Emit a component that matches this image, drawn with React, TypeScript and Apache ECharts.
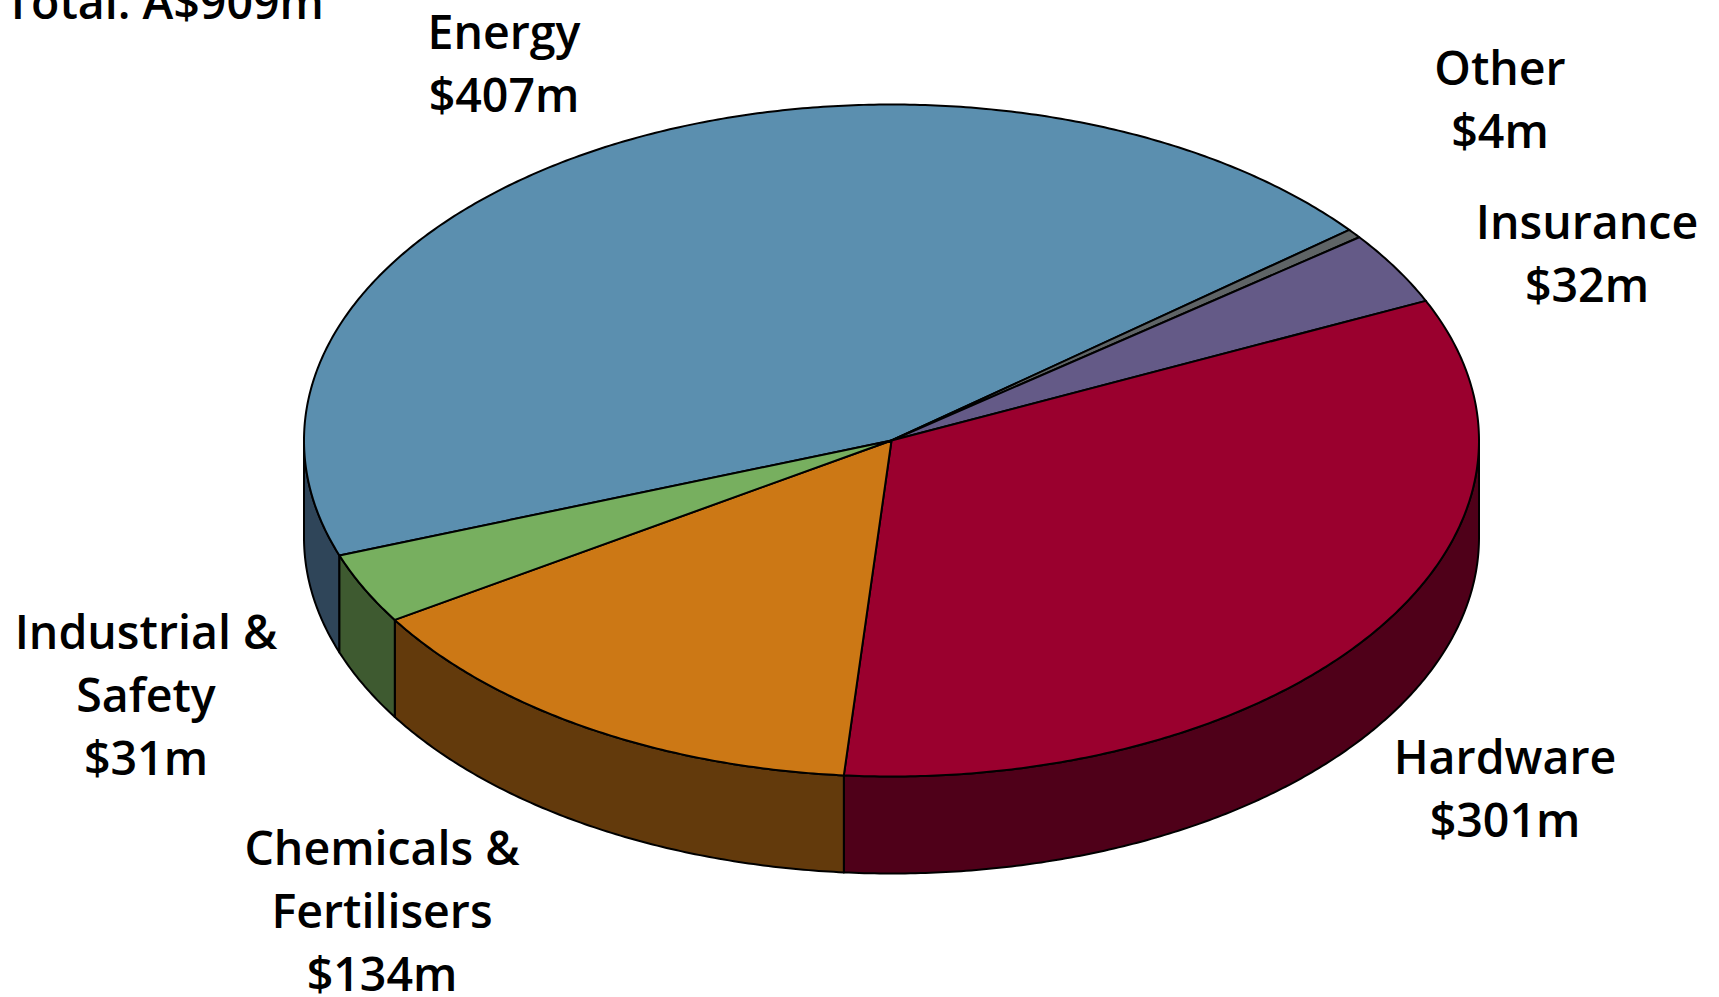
import React, { useEffect, useRef } from 'react';
import * as echarts from 'echarts';

// Revenue by segment, A$m (clockwise from the lower-left)
const CATEGORIES = ['Energy', 'Other', 'Insurance', 'Hardware', 'Chemicals & Fertilisers', 'Industrial & Safety'];
const VALUES = [407, 4, 32, 301, 134, 31];
const TOTAL_LABEL = 'Total: A$909m';

const TOP_COLORS = ['#5B8FAF', '#5F6466', '#645A87', '#9A002E', '#CC7815', '#77AF5F'];
const SIDE_COLORS = ['#2F4559', '#36393A', '#3A3450', '#4F0019', '#633A0C', '#3E5A30'];

// Centre of each label block, in pixels
const LABEL_POS: [number, number][] = [
  [504, 62],
  [1500, 98],
  [1587, 252],
  [1505, 787],
  [382, 910],
  [146, 694],
];

// Tilted-disc geometry
const PIE = { cx: 891.5, cy: 440.5, rx: 587.5, ry: 336, depth: 97, startAngle: 160 };
const FONT_FAMILY = '"Open Sans", "Noto Sans", sans-serif';
const FONT_SIZE = 46.5;
const FONT_WEIGHT = 600;
const LINE_HEIGHT = 63;

function sliceAngles(values: number[], i: number): [number, number] {
  const total = values.reduce((a, b) => a + b, 0);
  let acc = 0;
  for (let k = 0; k < i; k++) acc += values[k];
  const a0 = PIE.startAngle + (acc / total) * 360;
  const a1 = a0 + (values[i] / total) * 360;
  return [a0, a1];
}

function arcPoints(a0: number, a1: number, dy: number): number[][] {
  const steps = Math.max(2, Math.ceil((a1 - a0) / 0.5));
  const pts: number[][] = [];
  for (let s = 0; s <= steps; s++) {
    const a = ((a0 + ((a1 - a0) * s) / steps) * Math.PI) / 180;
    pts.push([PIE.cx + PIE.rx * Math.cos(a), PIE.cy + PIE.ry * Math.sin(a) + dy]);
  }
  return pts;
}

function labelText(i: number): string {
  return `${CATEGORIES[i].replace(' & ', ' &\n')}\n$${VALUES[i]}m`;
}

export default function App() {
  const ref = useRef<HTMLDivElement>(null);

  useEffect(() => {
    if (!ref.current) return;
    const chart = echarts.init(ref.current, undefined, { renderer: 'svg' });
    const data = VALUES.map((v, i) => ({ name: CATEGORIES[i], value: v }));

    chart.setOption({
      animation: false,
      backgroundColor: '#ffffff',
      graphic: [
        {
          type: 'text',
          x: 324,
          y: 1,
          style: {
            text: TOTAL_LABEL,
            fill: '#000',
            fontFamily: FONT_FAMILY,
            fontSize: FONT_SIZE,
            fontWeight: FONT_WEIGHT,
            align: 'right',
            verticalAlign: 'middle',
          },
        },
      ],
      series: [
        {
          // outer walls of the disc (front half only)
          type: 'custom',
          coordinateSystem: 'none',
          z: 1,
          silent: true,
          data,
          renderItem: (params: any) => {
            const i = params.dataIndex;
            const [a0, a1] = sliceAngles(VALUES, i);
            const children: any[] = [];
            for (const base of [0, 360]) {
              const s = Math.max(a0, base);
              const e = Math.min(a1, base + 180);
              if (e > s) {
                const top = arcPoints(s, e, 0);
                const bottom = arcPoints(s, e, PIE.depth).reverse();
                children.push({
                  type: 'polygon',
                  shape: { points: top.concat(bottom) },
                  style: { fill: SIDE_COLORS[i], stroke: '#000', lineWidth: 2, lineJoin: 'round' },
                });
              }
            }
            return { type: 'group', children };
          },
        },
        {
          // top faces and labels
          type: 'custom',
          coordinateSystem: 'none',
          z: 2,
          silent: true,
          data,
          renderItem: (params: any) => {
            const i = params.dataIndex;
            const [a0, a1] = sliceAngles(VALUES, i);
            const pts = [[PIE.cx, PIE.cy]].concat(arcPoints(a0, a1, 0));
            return {
              type: 'group',
              children: [
                {
                  type: 'polygon',
                  shape: { points: pts },
                  style: { fill: TOP_COLORS[i], stroke: '#000', lineWidth: 2, lineJoin: 'round' },
                },
                {
                  type: 'text',
                  x: LABEL_POS[i][0],
                  y: LABEL_POS[i][1],
                  style: {
                    text: labelText(i),
                    fill: '#000',
                    fontFamily: FONT_FAMILY,
                    fontSize: FONT_SIZE,
                    fontWeight: FONT_WEIGHT,
                    align: 'center',
                    verticalAlign: 'middle',
                    lineHeight: LINE_HEIGHT,
                  },
                },
              ],
            };
          },
        },
      ],
    });

    return () => chart.dispose();
  }, []);

  return (
    <div
      ref={ref}
      style={{ position: 'absolute', left: 0, top: 0, width: 1719, height: 997 }}
    />
  );
}
